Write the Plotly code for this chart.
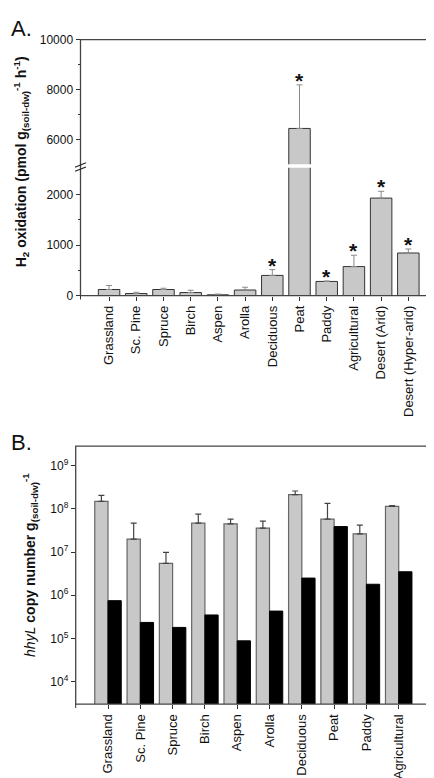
import plotly.graph_objects as go

# ---------------- data ----------------
cats_a = ["Grassland", "Sc. Pine", "Spruce", "Birch", "Aspen", "Arolla", "Deciduous",
          "Peat", "Paddy", "Agricultural", "Desert (Arid)", "Desert (Hyper-arid)"]
h2_ox = [120, 40, 120, 60, 15, 110, 400, 6450, 280, 575, 1935, 845]
h2_err = [80, 25, 25, 45, 15, 55, 115, 1740, 10, 225, 135, 80]
starred = [False, False, False, False, False, False, True, True, True, True, True, True]

low_tickvals = [0, 1000, 2000]
low_ticktext = ["0", "1000", "2000"]
up_tickvals = [6000, 8000, 10000]
up_ticktext = ["6000", "8000", "10000"]

cats_b = ["Grassland", "Sc. Pine", "Spruce", "Birch", "Aspen", "Arolla", "Deciduous",
          "Peat", "Paddy", "Agricultural"]
copies_grey = [1.5e8, 2.0e7, 5.5e6, 4.7e7, 4.5e7, 3.6e7, 2.15e8, 5.8e7, 2.65e7, 1.15e8]
copies_grey_err = [5.5e7, 2.7e7, 4.3e6, 2.9e7, 1.3e7, 1.6e7, 4.5e7, 7.7e7, 1.55e7, 5e6]
copies_black = [7.5e5, 2.35e5, 1.8e5, 3.5e5, 8.8e4, 4.3e5, 2.5e6, 3.9e7, 1.8e6, 3.5e6]

log_tickvals = [1e4, 1e5, 1e6, 1e7, 1e8, 1e9]
log_ticktext = ["10<sup>4</sup>", "10<sup>5</sup>", "10<sup>6</sup>", "10<sup>7</sup>",
                "10<sup>8</sup>", "10<sup>9</sup>"]

# ---------------- geometry helpers (pixel -> paper) ----------------
W, H = 434, 778
def px(x):
    return x / W
def py(y):
    return 1 - y / H

FONT = "Liberation Sans, Arial, sans-serif"
GREY = "#c8c8c8"

fig = go.Figure()

# ---- panel A: lower and upper segments ----
for ya in ["y", "y2"]:
    fig.add_trace(go.Bar(
        x=cats_a, y=h2_ox, xaxis="x", yaxis=ya,
        width=0.79, offset=-0.395,
        marker=dict(color=GREY, line=dict(color="#333333", width=1)),
        error_y=dict(type="data", array=h2_err, arrayminus=[0] * len(h2_err),
                     symmetric=False, color="#8a8a8a", thickness=1, width=3),
        showlegend=False, name="H2 oxidation"))

# ---- panel B ----
fig.add_trace(go.Bar(
    x=cats_b, y=copies_grey, xaxis="x2", yaxis="y3",
    width=0.41, offset=-0.41,
    marker=dict(color=GREY, line=dict(color="#666666", width=1.2)),
    error_y=dict(type="data", array=copies_grey_err, arrayminus=[0] * len(copies_grey_err),
                 symmetric=False, color="#444444", thickness=1.2, width=3),
    showlegend=False, name="hhyL copies (grey)"))
fig.add_trace(go.Bar(
    x=cats_b, y=copies_black, xaxis="x2", yaxis="y3",
    width=0.41, offset=0,
    marker=dict(color="#000000", line=dict(color="#000000", width=1)),
    showlegend=False, name="hhyL copies (black)"))

tickfont = dict(family=FONT, size=12, color="#111111")
catfont = dict(family=FONT, size=13, color="#111111")

# pixel geometry
A_L, A_R, A_T, A_B = 72.5, 427, 25, 285.7
LOW_TOP, UP_BOT = 155.5, 152
B_L, B_R, B_T, B_B = 67.7, 422.7, 439, 701.7

fig.update_layout(
    width=W, height=H,
    margin=dict(l=0, r=0, t=0, b=0),
    paper_bgcolor="white", plot_bgcolor="white",
    font=dict(family=FONT, color="#111111"),
    barmode="overlay",
    xaxis=dict(domain=[px(A_L), px(A_R)], anchor="y", type="category",
               range=[-1.05, 11.98], tickangle=-90, ticks="outside", ticklen=4,
               tickcolor="#333333", tickfont=catfont, showline=False,
               showgrid=False, zeroline=False),
    yaxis=dict(domain=[py(A_B), py(LOW_TOP)], anchor="x",
               range=[0, (A_B - LOW_TOP) / 51.3 * 1000],
               tickvals=low_tickvals, ticktext=low_ticktext, ticks="outside", ticklen=4,
               tickcolor="#333333", tickfont=tickfont, showgrid=False,
               zeroline=False, showline=False,
               minor=dict(tickvals=[500, 1500], ticks="outside", ticklen=2,
                          tickcolor="#333333")),
    yaxis2=dict(domain=[py(UP_BOT), py(A_T)], anchor="x",
                range=[10000 - (UP_BOT - A_T) / 25.5 * 1000, 10000],
                tickvals=up_tickvals, ticktext=up_ticktext, ticks="outside", ticklen=4,
                tickcolor="#333333", tickfont=tickfont, showgrid=False,
                zeroline=False, showline=False,
                minor=dict(tickvals=[7000, 9000], ticks="outside", ticklen=2,
                           tickcolor="#333333")),
    xaxis2=dict(domain=[px(B_L), px(B_R)], anchor="y3", type="category",
                range=[-1, 9.99], tickangle=-90, ticks="outside", ticklen=4,
                tickcolor="#333333", tickfont=catfont, showline=False,
                showgrid=False, zeroline=False),
    yaxis3=dict(domain=[py(B_B), py(B_T)], anchor="x2", type="log",
                range=[3.48, 9.455], tickvals=log_tickvals, ticktext=log_ticktext,
                ticks="outside", ticklen=4, tickcolor="#333333", tickfont=tickfont,
                showgrid=False, zeroline=False, showline=False),
)

shapes = []
LC = "#444444"
# frames
shapes.append(dict(type="rect", xref="paper", yref="paper",
                   x0=px(A_L), x1=px(A_R), y0=py(A_B), y1=py(A_T),
                   line=dict(color=LC, width=1.3)))
shapes.append(dict(type="rect", xref="paper", yref="paper",
                   x0=px(B_L), x1=px(B_R), y0=py(B_B), y1=py(B_T),
                   line=dict(color=LC, width=1.3)))
# end ticks on x axes
for xx, yy in [(A_L, A_B), (A_R, A_B), (B_L, B_B), (B_R, B_B)]:
    shapes.append(dict(type="line", xref="paper", yref="paper",
                       x0=px(xx), x1=px(xx), y0=py(yy), y1=py(yy + 4),
                       line=dict(color="#333333", width=1)))
# break marks
for xx in [A_L, A_R]:
    for dy in [0, 4.2]:
        shapes.append(dict(type="line", xref="paper", yref="paper",
                           x0=px(xx - 5.5), x1=px(xx + 5.5),
                           y0=py(155 + dy), y1=py(150.5 + dy),
                           line=dict(color="#222222", width=1.1)))

fig.update_layout(shapes=shapes)

ann = []
# stars
for c, v, e, s in zip(cats_a, h2_ox, h2_err, starred):
    if s:
        ann.append(dict(x=c, y=v + e, xref="x", yref="y2" if v + e > 3000 else "y",
                        text="<b>*</b>", showarrow=False, yanchor="bottom",
                        yshift=-9, font=dict(family=FONT, size=21, color="#111111")))
# panel labels
ann.append(dict(x=px(1), y=py(14), xref="paper", yref="paper", text="A.",
                showarrow=False, xanchor="left", yanchor="middle",
                font=dict(family=FONT, size=22, color="#111111")))
ann.append(dict(x=px(1), y=py(435), xref="paper", yref="paper", text="B.",
                showarrow=False, xanchor="left", yanchor="middle",
                font=dict(family=FONT, size=22, color="#111111")))
# axis titles
ann.append(dict(x=px(13), y=py(150), xref="paper", yref="paper", textangle=-90,
                text="<b>H<sub>2</sub> oxidation (pmol g<sub>(soil-dw)</sub><sup>-1</sup> h<sup>-1</sup>)</b>",
                showarrow=False, xanchor="center", yanchor="middle",
                font=dict(family=FONT, size=14, color="#111111")))
ann.append(dict(x=px(22), y=py(560), xref="paper", yref="paper", textangle=-90,
                text="<i>hhyL</i> <b>copy number g<sub>(soil-dw)</sub><sup>-1</sup></b>",
                showarrow=False, xanchor="center", yanchor="middle",
                font=dict(family=FONT, size=14, color="#111111")))
fig.update_layout(annotations=ann)

fig.write_html("out.html")
